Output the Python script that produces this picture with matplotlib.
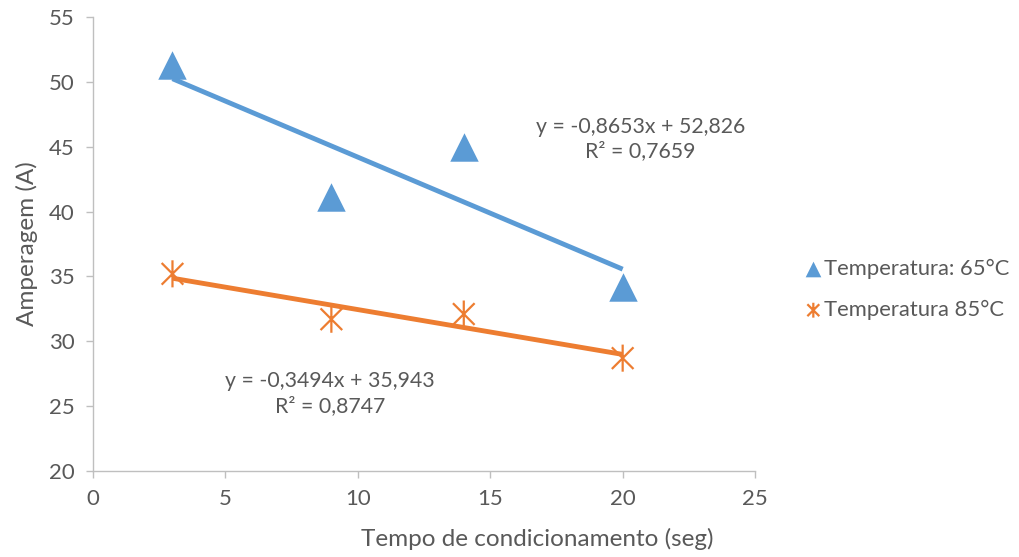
import numpy as np
import matplotlib
matplotlib.use("Agg")
import matplotlib.pyplot as plt
from matplotlib.path import Path

# dados
tempo = [3, 9, 14, 20]
amp_65 = [51.3, 41.1, 45.0, 34.2]
amp_85 = [35.2, 31.7, 32.1, 28.7]
label_65 = "Temperatura: 65°C"
label_85 = "Temperatura 85°C"
eq_65 = "y = -0,8653x + 52,826\nR² = 0,7659"
eq_85 = "y = -0,3494x + 35,943\nR² = 0,8747"

BLUE = "#5b9bd5"
ORANGE = "#ed7d31"
TXT = "#595959"
AXC = "#bfbfbf"

plt.rcParams['font.family'] = ['Lato', 'DejaVu Sans']

# marcador asterisco (vertical + X)
star = Path([(0, -1), (0, 1), (-0.8, -0.8), (0.8, 0.8), (-0.8, 0.8), (0.8, -0.8)],
            [Path.MOVETO, Path.LINETO, Path.MOVETO, Path.LINETO, Path.MOVETO, Path.LINETO])

fig = plt.figure(figsize=(10.19, 5.57), dpi=100)
ax = fig.add_axes([0.0913, 0.1544, 0.6497, 0.8151])

x = np.array(tempo, dtype=float)
for ys, col in [(amp_65, BLUE), (amp_85, ORANGE)]:
    k, b = np.polyfit(x, ys, 1)
    xx = np.array([x.min(), x.max()])
    ax.plot(xx, k * xx + b, color=col, lw=3.5, zorder=2, solid_capstyle='butt')

ax.scatter(tempo, amp_65, marker='^', s=420, color=BLUE, zorder=3, label=label_65, linewidths=0)
ax.scatter(tempo, amp_85, marker=star, s=380, facecolor='none', edgecolor=ORANGE,
           linewidths=1.6, zorder=3, label=label_85)

ax.text(20.66, 45.6, eq_65, ha='center', va='center', fontsize=15.3, color=TXT, linespacing=1.3)
ax.text(8.95, 25.95, eq_85, ha='center', va='center', fontsize=15.3, color=TXT, linespacing=1.3)

ax.set_xlim(0, 25)
ax.set_ylim(20, 55)
ax.set_xticks(range(0, 26, 5))
ax.set_yticks(range(20, 56, 5))
for s in ['top', 'right']:
    ax.spines[s].set_visible(False)
for s in ['left', 'bottom']:
    ax.spines[s].set_color(AXC)
    ax.spines[s].set_linewidth(1.0)
ax.tick_params(colors=AXC, labelcolor=TXT, labelsize=16, length=5, width=1)
ax.tick_params(axis='x', pad=8)
ax.tick_params(axis='y', pad=8)
ax.set_xlabel("Tempo de condicionamento (seg)", fontsize=17.5, color=TXT)
ax.xaxis.set_label_coords(0.671, -0.125)
ax.set_ylabel("Amperagem (A)", fontsize=17.5, color=TXT, labelpad=8)

leg = ax.legend(loc='center left', bbox_to_anchor=(1.025, 0.40), frameon=False,
                fontsize=15.8, handletextpad=-0.5, labelspacing=0.95, markerscale=0.55,
                scatterpoints=1)
for t in leg.get_texts():
    t.set_color(TXT)

fig.savefig("out.png", dpi=100)
